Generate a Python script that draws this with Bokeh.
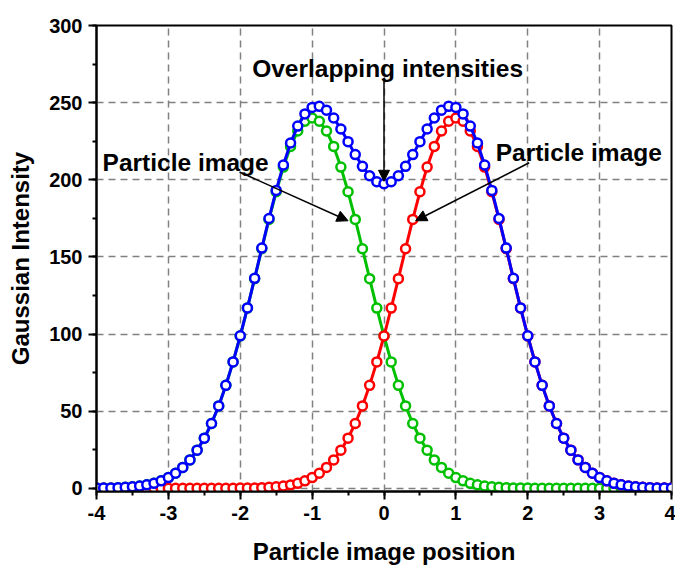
from bokeh.plotting import figure
from bokeh.models import (SingleIntervalTicker, Label, Arrow, NormalHead, Range1d,
                          CustomJSTickFormatter)
from bokeh.embed import file_html
from bokeh.resources import INLINE

# ---- data ----
x_pos = [round(-4 + 0.1 * i, 1) for i in range(81)]

green_img = [0.1, 0.1, 0.2, 0.4, 0.6, 0.9, 1.4, 2.2, 3.2, 4.8,
             6.9, 9.7, 13.5, 18.4, 24.7, 32.5, 42.0, 53.4, 66.7, 81.9,
             98.7, 116.8, 135.9, 155.3, 174.3, 192.2, 208.2, 221.6, 231.6, 237.9,
             240.0, 237.9, 231.6, 221.6, 208.2, 192.2, 174.3, 155.3, 135.9, 116.8,
             98.7, 81.9, 66.7, 53.4, 42.0, 32.5, 24.7, 18.4, 13.5, 9.7,
             6.9, 4.8, 3.2, 2.2, 1.4, 0.9, 0.6, 0.4, 0.2, 0.1,
             0.1, 0.0, 0.0, 0.0, 0.0, 0.0, 0.0, 0.0, 0.0, 0.0,
             0.0, 0.0, 0.0, 0.0, 0.0, 0.0, 0.0, 0.0, 0.0, 0.0, 0.0]

red_img = [0.0, 0.0, 0.0, 0.0, 0.0, 0.0, 0.0, 0.0, 0.0, 0.0,
           0.0, 0.0, 0.0, 0.0, 0.0, 0.0, 0.0, 0.0, 0.0, 0.0,
           0.1, 0.1, 0.2, 0.4, 0.6, 0.9, 1.4, 2.2, 3.2, 4.8,
           6.9, 9.7, 13.5, 18.4, 24.7, 32.5, 42.0, 53.4, 66.7, 81.9,
           98.7, 116.8, 135.9, 155.3, 174.3, 192.2, 208.2, 221.6, 231.6, 237.9,
           240.0, 237.9, 231.6, 221.6, 208.2, 192.2, 174.3, 155.3, 135.9, 116.8,
           98.7, 81.9, 66.7, 53.4, 42.0, 32.5, 24.7, 18.4, 13.5, 9.7,
           6.9, 4.8, 3.2, 2.2, 1.4, 0.9, 0.6, 0.4, 0.2, 0.1, 0.1]

overlap = [0.1, 0.1, 0.2, 0.4, 0.6, 0.9, 1.4, 2.2, 3.2, 4.8,
           6.9, 9.7, 13.5, 18.4, 24.7, 32.5, 42.0, 53.4, 66.7, 81.9,
           98.8, 116.9, 136.1, 155.7, 174.9, 193.1, 209.6, 223.8, 234.8, 242.7,
           246.9, 247.6, 245.1, 240.0, 232.9, 224.7, 216.3, 208.7, 202.6, 198.7,
           197.4, 198.7, 202.6, 208.7, 216.3, 224.7, 232.9, 240.0, 245.1, 247.6,
           246.9, 242.7, 234.8, 223.8, 209.6, 193.1, 174.9, 155.7, 136.1, 116.9,
           98.8, 81.9, 66.7, 53.4, 42.0, 32.5, 24.7, 18.4, 13.5, 9.7,
           6.9, 4.8, 3.2, 2.2, 1.4, 0.9, 0.6, 0.4, 0.2, 0.1, 0.1]

# annotations: (text, x, y) and arrows (x_start, y_start, x_end, y_end)
labels = [("Overlapping intensities", 0.05, 272),
          ("Particle image", -2.76, 211.5),
          ("Particle image", 2.71, 217.5)]
arrows = [(0.0, 266, 0.0, 199),
          (-2.01, 205, -0.50, 173.4),
          (2.02, 211, 0.44, 173.4)]

FONT = "Liberation Sans"

p = figure(width=675, height=570, output_backend="svg", toolbar_location=None,
           x_range=Range1d(-4, 4), y_range=Range1d(-2.1, 300),
           min_border_left=96, min_border_right=4, min_border_top=25, min_border_bottom=79)
p.background_fill_color = "white"
p.border_fill_color = "white"
p.outline_line_color = "black"
p.outline_line_width = 2

p.xaxis.ticker = SingleIntervalTicker(interval=1, num_minor_ticks=2)
p.yaxis.ticker = SingleIntervalTicker(interval=50, num_minor_ticks=2)
p.xaxis.formatter = CustomJSTickFormatter(code="return tick.toFixed(0);")
p.yaxis.formatter = CustomJSTickFormatter(code="return tick.toFixed(0);")

for ax in (p.xaxis, p.yaxis):
    ax.axis_line_width = 2
    ax.axis_line_color = "black"
    ax.major_tick_line_width = 2
    ax.minor_tick_line_width = 2
    ax.major_tick_in = 0
    ax.major_tick_out = 8
    ax.minor_tick_in = 0
    ax.minor_tick_out = 4
    ax.major_label_text_font = FONT
    ax.major_label_text_font_style = "bold"
    ax.major_label_text_font_size = "20px"
    ax.major_label_text_color = "black"
    ax.axis_label_text_font = FONT
    ax.axis_label_text_font_style = "bold"
    ax.axis_label_text_font_size = "24px"
    ax.axis_label_text_color = "black"

p.xaxis.axis_label = "Particle image position"
p.yaxis.axis_label = "Gaussian Intensity"
p.xaxis.major_label_standoff = 6
p.yaxis.major_label_standoff = 6
p.xaxis.axis_label_standoff = 15
p.yaxis.axis_label_standoff = 12

for g in (p.xgrid, p.ygrid):
    g.grid_line_color = "#808080"
    g.grid_line_width = 1.5
    g.grid_line_dash = "7 5"

series = [(green_img, "#00c000"), (red_img, "#ff0000"), (overlap, "#0000ff")]
for ys, col in series:
    p.line(x_pos, ys, line_color=col, line_width=3)
    p.scatter(x_pos, ys, marker="circle", size=9, fill_color="white",
              line_color=col, line_width=2.5)

for txt, lx, ly in labels:
    p.add_layout(Label(x=lx, y=ly, text=txt, text_align="center",
                       text_baseline="alphabetic", text_font=FONT,
                       text_font_style="bold", text_font_size="24.5px",
                       text_color="black"))

for x0, y0, x1, y1 in arrows:
    p.add_layout(Arrow(x_start=x0, y_start=y0, x_end=x1, y_end=y1,
                       line_color="black", line_width=1.5,
                       end=NormalHead(size=11, fill_color="black",
                                      line_color="black", line_width=1)))

open("out.html", "w").write(file_html(p, INLINE))
